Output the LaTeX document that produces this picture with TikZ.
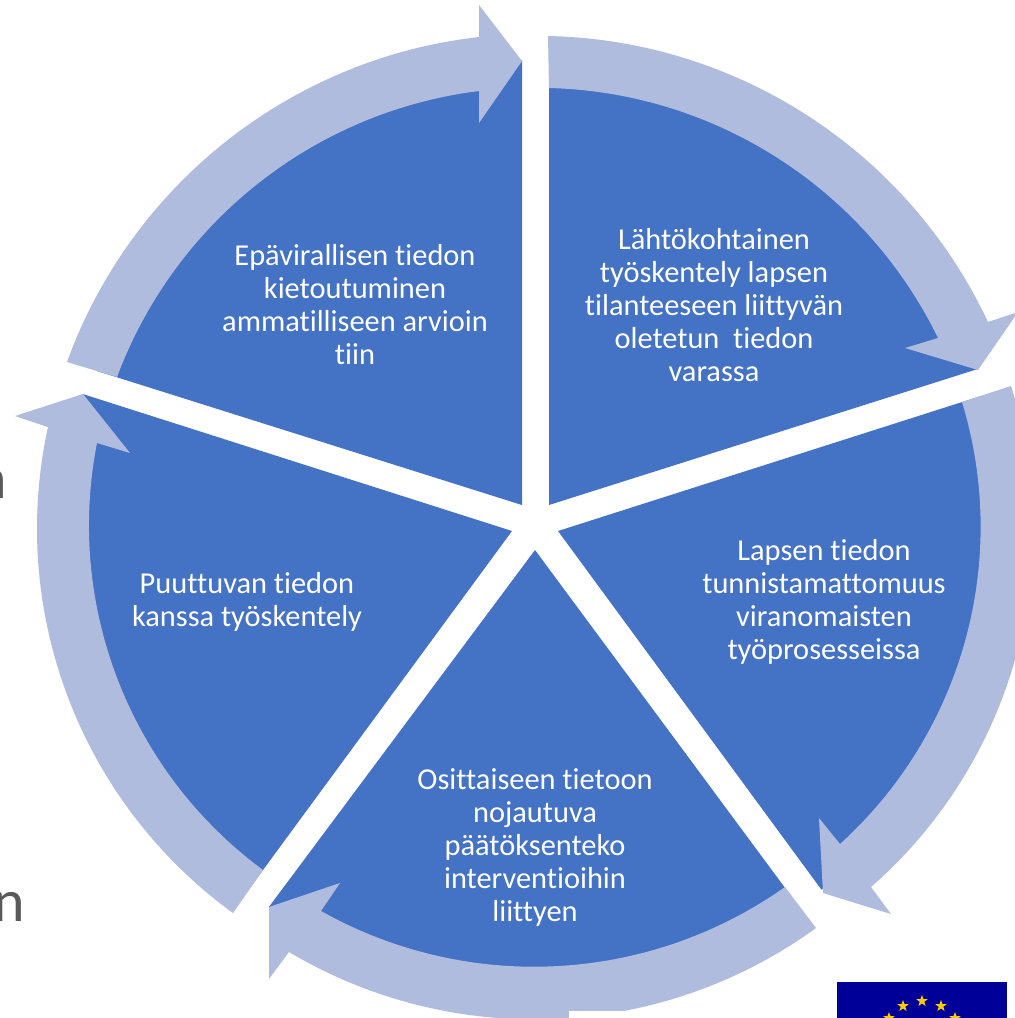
\documentclass[tikz,border=0pt]{standalone}
\usepackage{fontspec}
\setmainfont[Ligatures=NoCommon]{Carlito}
\usetikzlibrary{shapes.geometric}
\definecolor{slicecol}{HTML}{4472C4}
\definecolor{ringcol}{HTML}{B0BCDE}
\definecolor{flagcol}{HTML}{000099}
\definecolor{starcol}{HTML}{FFCC00}
\definecolor{graytxt}{HTML}{595959}
% name x0 y0 x1 y1 r : clockwise (on screen) arc from p0 to p1 of radius r
\newcommand\setarc[6]{%
  \edef\dd{\fpeval{sqrt((#4-#2)^2+(#5-#3)^2)}}%
  \edef\hh{\fpeval{sqrt((#6)^2-(\dd/2)^2)}}%
  \edef\ccx{\fpeval{(#2+#4)/2-\hh*(#5-#3)/\dd}}%
  \edef\ccy{\fpeval{(#3+#5)/2+\hh*(#4-#2)/\dd}}%
  \edef\angs{\fpeval{round(atand(#3-\ccy,#2-\ccx),3)}}%
  \edef\ange{\fpeval{round(atand(#5-\ccy,#4-\ccx),3)}}%
  \expandafter\edef\csname #1s\endcsname{\angs}%
  \expandafter\edef\csname #1e\endcsname{\fpeval{\ange<\angs ? \ange+360 : \ange}}%
}
\tikzset{
  slice/.style={fill=slicecol,draw=none},
  ringarrow/.style={fill=ringcol,draw=none},
  label/.style={text=white,font=\fontsize{30.4}{33}\selectfont,align=center,inner sep=0pt},
  stray/.style={text=graytxt,font=\fontsize{60}{60}\selectfont,inner sep=0pt,anchor=base east},
  eustar/.style={star,star points=5,star point ratio=2.4,fill=starcol,draw=none,minimum size=12pt,inner sep=0pt}
}
\begin{document}
\begin{tikzpicture}[x=1pt,y=-1pt]
\useasboundingbox (0,0) rectangle (1015,1018);
\clip (0,0) rectangle (1015,1018);
\fill[white] (0,0) rectangle (1015,1018);
% stray text
\node[stray] (strayA) at (7,498) {n};
\node[stray] (strayB) at (25,921) {n};
% slices
\fill[slice] (549,505) -- (549,56) arc[start angle=-90,end angle=-17.6,radius=449] -- cycle;
\fill[slice] (558,531) -- ++(-17.7:445) arc[start angle=-17.7,end angle=53.7,radius=445] -- cycle;
\fill[slice] (535,550) -- ++(53.5:445) arc[start angle=53.5,end angle=126.7,radius=445] -- cycle;
\fill[slice] (512,531) -- ++(126.3:450) arc[start angle=126.3,end angle=197.7,radius=450] -- cycle;
\fill[slice] (522,505) -- ++(197.5:445) arc[start angle=197.5,end angle=270,radius=445] -- cycle;
% ring arrows
\setarc{Ao}{548}{36}{988}{322}{498}\setarc{Ai}{549}{88}{938}{338}{445}
\fill[ringarrow] (548,36) arc[start angle=\Aos,end angle=\Aoe,radius=498] -- (1018,312) -- (978,370) -- (905,348) -- (938,338) arc[start angle=\Aie,end angle=\Ais,radius=445] -- cycle;
\setarc{Bo}{1011}{386}{871}{887}{475}\setarc{Bi}{962}{402}{840}{844}{428}
\fill[ringarrow] (1011,386) arc[start angle=\Bos,end angle=\Boe,radius=475] -- (891,914) -- (823,893) -- (819,818) -- (840,844) arc[start angle=\Bie,end angle=\Bis,radius=428] -- cycle;
\setarc{Co}{816}{928}{289}{952}{480}\setarc{Ci}{785}{887}{321}{911}{435}
\fill[ringarrow] (816,928) arc[start angle=\Cos,end angle=\Coe,radius=480] -- (269,979) -- (269,907) -- (340,883) -- (321,911) arc[start angle=\Cie,end angle=\Cis,radius=435] -- cycle;
\setarc{Do}{233}{913}{48}{427}{475}\setarc{Di}{263}{870}{97}{443}{428}
\fill[ringarrow] (233,913) arc[start angle=\Dos,end angle=\Doe,radius=475] -- (15,416) -- (83,394) -- (130,453) -- (97,443) arc[start angle=\Die,end angle=\Dis,radius=428] -- cycle;
\setarc{Eo}{67}{362}{479}{37}{498}\setarc{Ei}{117}{377}{479}{91}{445}
\fill[ringarrow] (67,362) arc[start angle=\Eos,end angle=\Eoe,radius=498] -- (479,5) -- (522,61) -- (479,123) -- (479,91) arc[start angle=\Eie,end angle=\Eis,radius=445] -- cycle;
% labels
\node[label] (t1) at (714,305) {Lähtökohtainen\\työskentely lapsen\\tilanteeseen liittyvän\\oletetun\ \ tiedon\\varassa};
\node[label] (t2) at (824,602) {Lapsen tiedon\\tunnistamattomuus\\viranomaisten\\työprosesseissa};
\node[label] (t3) at (535,847.5) {Osittaiseen tietoon\\nojautuva\\päätöksenteko\\interventioihin\\liittyen};
\node[label] (t4) at (247,602) {Puuttuvan tiedon\\kanssa työskentely};
\node[label] (t5) at (355,305) {Epävirallisen tiedon\\kietoutuminen\\ammatilliseen arvioin\\tiin};
% cover and flag
\fill[white] (569,1011) rectangle (837,1018);
\fill[flagcol] (837,982) rectangle (1007,1018);
\node[eustar] (s1) at (922,1001) {};
\node[eustar] (s2) at (903,1006) {};
\node[eustar] (s3) at (941,1006) {};
\node[eustar] (s4) at (889,1018) {};
\node[eustar] (s5) at (955,1018) {};
\end{tikzpicture}
\end{document}
